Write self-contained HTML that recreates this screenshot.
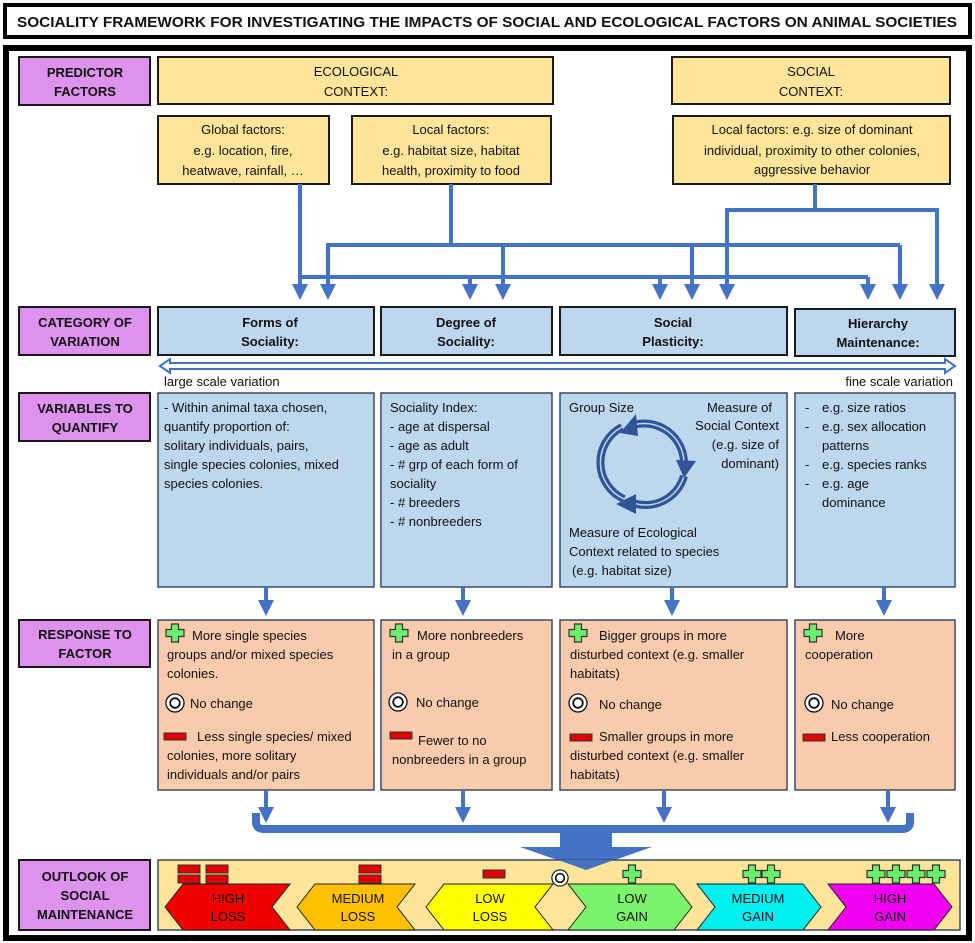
<!DOCTYPE html>
<html><head><meta charset="utf-8"><style>
html,body{margin:0;padding:0;background:#fff}
svg{display:block}
text{font-family:"Liberation Sans",sans-serif;fill:#111}
.b{font-size:13px}
.h{font-size:13px;font-weight:bold}
.c{text-anchor:middle}
.r{text-anchor:end}
.bx{stroke:#1a1a1a;stroke-width:2}
.ar{stroke:#4472c4;stroke-width:4;fill:none}
</style></head><body>
<svg width="975" height="943" viewBox="0 0 975 943" xmlns="http://www.w3.org/2000/svg">
<defs>
<marker id="ah" markerWidth="4" markerHeight="4" refX="2" refY="2" orient="auto" markerUnits="strokeWidth">
<path d="M0,0 L4,2 L0,4 z" fill="#4472c4"/></marker>
<symbol id="plus" viewBox="-10 -10 20 20" overflow="visible"><path d="M-3.5,-9 h7 v5.5 h5.5 v7 h-5.5 v5.5 h-7 v-5.5 h-5.5 v-7 h5.5z" fill="#6cf06c" stroke="#333" stroke-width="1.2"/></symbol>
<symbol id="circ" viewBox="-10 -10 20 20" overflow="visible"><circle r="9" fill="#fff" stroke="#111" stroke-width="1.3"/><circle r="4.8" fill="none" stroke="#111" stroke-width="1.8"/></symbol>
</defs>

<rect x="5" y="5" width="965" height="32" fill="#fff" stroke="#000" stroke-width="4"/>
<text x="487" y="27" class="c" style="font-size:15px;font-weight:bold" textLength="940" lengthAdjust="spacingAndGlyphs">SOCIALITY FRAMEWORK FOR INVESTIGATING THE IMPACTS OF SOCIAL AND ECOLOGICAL FACTORS ON ANIMAL SOCIETIES</text>
<rect x="6" y="48" width="963" height="890" fill="#fff" stroke="#000" stroke-width="6"/>

<rect x="19" y="57" width="131" height="48" fill="#dd92ee" class="bx"/>
<text x="85" y="77" class="h c">PREDICTOR</text><text x="85" y="96" class="h c">FACTORS</text>
<rect x="158" y="57" width="395" height="47" fill="#fee59a" class="bx"/>
<text x="356" y="76" class="b c">ECOLOGICAL</text><text x="356" y="96" class="b c">CONTEXT:</text>
<rect x="672" y="57" width="278" height="47" fill="#fee59a" class="bx"/>
<text x="811" y="76" class="b c">SOCIAL</text><text x="811" y="96" class="b c">CONTEXT:</text>

<rect x="158" y="116" width="171" height="68" fill="#fee59a" class="bx"/>
<text x="243" y="134" class="b c">Global factors:</text><text x="243" y="155" class="b c">e.g. location, fire,</text><text x="243" y="175" class="b c">heatwave, rainfall, …</text>
<rect x="352" y="116" width="199" height="68" fill="#fee59a" class="bx"/>
<text x="451" y="134" class="b c">Local factors:</text><text x="451" y="155" class="b c">e.g. habitat size, habitat</text><text x="451" y="175" class="b c">health, proximity to food</text>
<rect x="673" y="116" width="277" height="68" fill="#fee59a" class="bx"/>
<text x="812" y="134" class="b c">Local factors: e.g. size of dominant</text><text x="812" y="155" class="b c">individual, proximity to other colonies,</text><text x="812" y="174" class="b c">aggressive behavior</text>

<g class="ar">
<path d="M300,184 V292" marker-end="url(#ah)"/>
<path d="M300,277 H868"/>
<path d="M470,277 V292" marker-end="url(#ah)"/>
<path d="M660,277 V292" marker-end="url(#ah)"/>
<path d="M868,277 V292" marker-end="url(#ah)"/>
<path d="M451,184 V245"/>
<path d="M328,245 H900"/>
<path d="M328,243 V292" marker-end="url(#ah)"/>
<path d="M503,245 V292" marker-end="url(#ah)"/>
<path d="M692,245 V292" marker-end="url(#ah)"/>
<path d="M900,245 V292" marker-end="url(#ah)"/>
<path d="M815,184 V210"/>
<path d="M727,210 H937"/>
<path d="M727,208 V292" marker-end="url(#ah)"/>
<path d="M937,208 V292" marker-end="url(#ah)"/>
</g>

<rect x="19" y="307" width="131" height="48" fill="#dd92ee" class="bx"/>
<text x="85" y="327" class="h c">CATEGORY OF</text><text x="85" y="346" class="h c">VARIATION</text>
<rect x="158" y="307" width="216" height="48" fill="#bdd7ee" class="bx"/>
<text x="270" y="327" class="h c">Forms of</text><text x="270" y="346" class="h c">Sociality:</text>
<rect x="381" y="307" width="171" height="48" fill="#bdd7ee" class="bx"/>
<text x="466" y="327" class="h c">Degree of</text><text x="466" y="346" class="h c">Sociality:</text>
<rect x="560" y="307" width="227" height="48" fill="#bdd7ee" class="bx"/>
<text x="673" y="327" class="h c">Social</text><text x="673" y="346" class="h c">Plasticity:</text>
<rect x="795" y="309" width="160" height="47" fill="#bdd7ee" class="bx"/>
<text x="878" y="328" class="h c">Hierarchy</text><text x="878" y="347" class="h c">Maintenance:</text>

<path d="M160,366 L170,359 V363 H945 V359 L955,366 L945,373 V369 H170 V373 Z" fill="#fff" stroke="#4472c4" stroke-width="2"/>
<text x="164" y="386" class="b">large scale variation</text>
<text x="953" y="386" class="b r">fine scale variation</text>

<rect x="19" y="393" width="131" height="48" fill="#dd92ee" class="bx"/>
<text x="85" y="413" class="h c">VARIABLES TO</text><text x="85" y="432" class="h c">QUANTIFY</text>
<g fill="#bdd7ee" stroke="#3a4a66" stroke-width="1.5">
<rect x="158" y="393" width="216" height="194"/>
<rect x="381" y="393" width="171" height="194"/>
<rect x="560" y="393" width="227" height="194"/>
<rect x="795" y="393" width="160" height="194"/>
</g>
<g class="b">
<text x="164" y="412">- Within animal taxa chosen,</text>
<text x="164" y="431">quantify proportion of:</text>
<text x="164" y="450">solitary individuals, pairs,</text>
<text x="164" y="469">single species colonies, mixed</text>
<text x="164" y="488">species colonies.</text>
<text x="390" y="412">Sociality Index:</text>
<text x="390" y="431">- age at dispersal</text>
<text x="390" y="450">- age as adult</text>
<text x="390" y="469">- # grp of each form of</text>
<text x="390" y="488">sociality</text>
<text x="390" y="507">- # breeders</text>
<text x="390" y="526">- # nonbreeders</text>
<text x="569" y="412">Group Size</text>
<text x="772" y="412" class="r">Measure of</text>
<text x="779" y="430" class="r">Social Context</text>
<text x="779" y="449" class="r">(e.g. size of</text>
<text x="779" y="468" class="r">dominant)</text>
<text x="569" y="537">Measure of Ecological</text>
<text x="569" y="556">Context related to species</text>
<text x="572" y="575">(e.g. habitat size)</text>
<text x="805" y="412">-</text><text x="822" y="412">e.g. size ratios</text>
<text x="805" y="431">-</text><text x="822" y="431">e.g. sex allocation</text>
<text x="822" y="450">patterns</text>
<text x="805" y="469">-</text><text x="822" y="469">e.g. species ranks</text>
<text x="805" y="488">-</text><text x="822" y="488">e.g. age</text>
<text x="822" y="507">dominance</text>
</g>
<g fill="none" stroke="#2f5597" stroke-width="8">
<path d="M633,425 A40,40 0 0 1 684,462"/>
<path d="M684,476 A40,40 0 0 1 633,503"/>
<path d="M624,499 A40,40 0 0 1 622,427"/>
</g>
<g fill="none" stroke="#bdd7ee" stroke-width="1.5">
<path d="M633,425 A40,40 0 0 1 684,462"/>
<path d="M684,476 A40,40 0 0 1 633,503"/>
<path d="M624,499 A40,40 0 0 1 622,427"/>
</g>
<g fill="#2f5597">
<path d="M620,433 L636,414 L638,436 Z"/>
<path d="M676,460 L696,461 L684,478 Z"/>
<path d="M636,494 L616,504 L636,514 Z"/>
</g>

<g class="ar">
<path d="M266,587 V608" marker-end="url(#ah)"/>
<path d="M463,587 V608" marker-end="url(#ah)"/>
<path d="M672,587 V608" marker-end="url(#ah)"/>
<path d="M884,587 V608" marker-end="url(#ah)"/>
</g>

<rect x="19" y="620" width="131" height="47" fill="#dd92ee" class="bx"/>
<text x="85" y="639" class="h c">RESPONSE TO</text><text x="85" y="658" class="h c">FACTOR</text>
<g fill="#f8cbad" stroke="#3a4a66" stroke-width="1.5">
<rect x="158" y="620" width="216" height="170"/>
<rect x="381" y="620" width="171" height="170"/>
<rect x="560" y="620" width="227" height="170"/>
<rect x="795" y="620" width="160" height="170"/>
</g>
<g fill="#e00000" stroke="#333" stroke-width="1">
<rect x="164" y="733" width="22" height="7"/>
<rect x="390" y="732" width="22" height="7"/>
<rect x="570" y="734" width="22" height="7"/>
<rect x="803" y="734" width="22" height="7"/>
</g>
<use href="#plus" x="165" y="623" width="20" height="20"/>
<use href="#plus" x="389" y="623" width="20" height="20"/>
<use href="#plus" x="568" y="623" width="20" height="20"/>
<use href="#plus" x="803" y="623" width="20" height="20"/>
<use href="#circ" x="165" y="693" width="20" height="20"/>
<use href="#circ" x="388" y="692" width="20" height="20"/>
<use href="#circ" x="568" y="693" width="20" height="20"/>
<use href="#circ" x="804" y="693" width="20" height="20"/>
<g class="b">
<text x="192" y="640">More single species</text>
<text x="167" y="659">groups and/or mixed species</text>
<text x="167" y="678">colonies.</text>
<text x="190" y="708">No change</text>
<text x="197" y="741">Less single species/ mixed</text>
<text x="167" y="760">colonies, more solitary</text>
<text x="167" y="779">individuals and/or pairs</text>
<text x="417" y="640">More nonbreeders</text>
<text x="392" y="659">in a group</text>
<text x="416" y="707">No change</text>
<text x="418" y="745">Fewer to no</text>
<text x="392" y="764">nonbreeders in a group</text>
<text x="599" y="640">Bigger groups in more</text>
<text x="570" y="659">disturbed context (e.g. smaller</text>
<text x="570" y="678">habitats)</text>
<text x="599" y="709">No change</text>
<text x="599" y="741">Smaller groups in more</text>
<text x="570" y="760">disturbed context (e.g. smaller</text>
<text x="570" y="779">habitats)</text>
<text x="835" y="640">More</text>
<text x="805" y="659">cooperation</text>
<text x="831" y="709">No change</text>
<text x="831" y="741">Less cooperation</text>
</g>

<g class="ar">
<path d="M266,790 V815" marker-end="url(#ah)"/>
<path d="M463,790 V815" marker-end="url(#ah)"/>
<path d="M664,790 V815" marker-end="url(#ah)"/>
<path d="M888,790 V815" marker-end="url(#ah)"/>
</g>
<path d="M256,813 V822 Q256,829 264,829 H902 Q910,829 910,822 V813" fill="none" stroke="#4472c4" stroke-width="8"/>
<path d="M560,829 H612 V847 H652 L586,870 L520,847 H560 Z" fill="#4472c4"/>

<rect x="19" y="860" width="131" height="70" fill="#dd92ee" class="bx"/>
<text x="85" y="881" class="h c">OUTLOOK OF</text><text x="85" y="900" class="h c">SOCIAL</text><text x="85" y="919" class="h c">MAINTENANCE</text>
<rect x="158" y="860" width="802" height="70" fill="#fee59a" stroke="#3a4a66" stroke-width="1.5"/>
<path d="M586,870 L558,860 H614 Z" fill="#4472c4"/>
<g stroke="#222" stroke-width="1">
<path d="M165,907 L183,884 H290 L272,907 L290,930 H183 Z" fill="#f00000"/>
<path d="M297,907 L315,884 H415 L397,907 L415,930 H315 Z" fill="#ffc000"/>
<path d="M426,907 L444,884 H553 L535,907 L553,930 H444 Z" fill="#ffff00"/>
<path d="M568,884 H674 L692,907 L674,930 H568 L586,907 Z" fill="#7cf46c"/>
<path d="M697,884 H803 L821,907 L803,930 H697 L715,907 Z" fill="#00f0f0"/>
<path d="M828,884 H934 L952,907 L934,930 H828 L846,907 Z" fill="#f000f0"/>
</g>
<g class="b c" style="font-size:13px">
<text x="228" y="903">HIGH</text><text x="228" y="921">LOSS</text>
<text x="358" y="903">MEDIUM</text><text x="358" y="921">LOSS</text>
<text x="490" y="903">LOW</text><text x="490" y="921">LOSS</text>
<text x="632" y="903">LOW</text><text x="632" y="921">GAIN</text>
<text x="758" y="903">MEDIUM</text><text x="758" y="921">GAIN</text>
<text x="890" y="903">HIGH</text><text x="890" y="921">GAIN</text>
</g>
<g fill="#e00000" stroke="#333" stroke-width="1">
<rect x="178" y="865" width="22" height="8"/><rect x="206" y="865" width="22" height="8"/>
<rect x="178" y="875" width="22" height="8"/><rect x="206" y="875" width="22" height="8"/>
<rect x="359" y="865" width="22" height="8"/><rect x="359" y="875" width="22" height="8"/>
<rect x="483" y="870" width="22" height="8"/>
</g>
<use href="#circ" x="551" y="869" width="18" height="18"/>
<use href="#plus" x="622" y="864" width="20" height="20"/>
<use href="#plus" x="742" y="864" width="20" height="20"/>
<use href="#plus" x="761" y="864" width="20" height="20"/>
<use href="#plus" x="866" y="864" width="20" height="20"/>
<use href="#plus" x="886" y="864" width="20" height="20"/>
<use href="#plus" x="906" y="864" width="20" height="20"/>
<use href="#plus" x="926" y="864" width="20" height="20"/>
</svg>
</body></html>
